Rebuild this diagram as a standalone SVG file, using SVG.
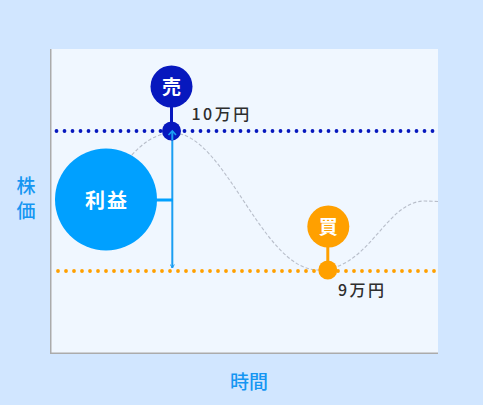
<svg xmlns="http://www.w3.org/2000/svg" width="483" height="405" viewBox="0 0 483 405">
<style>
.axis{font-family:"Noto Sans CJK JP","Noto Sans",sans-serif;font-size:19px;font-weight:500;fill:#1596F2}
.price{font-family:"Noto Sans CJK JP","Noto Sans",sans-serif;font-size:16px;font-weight:500;fill:#2E2E2E;letter-spacing:2.5px}
.badge{font-family:"Noto Sans CJK JP","Noto Sans",sans-serif;font-weight:700;fill:#fff;text-anchor:middle}
.dots{fill:none;stroke-width:3.8;stroke-linecap:round;stroke-dasharray:0 8}
</style>
<defs>
<marker id="ah" viewBox="0 0 10 10" refX="8" refY="5" markerWidth="5" markerHeight="5" orient="auto-start-reverse" markerUnits="userSpaceOnUse">
<path d="M1 1 L8 5 L1 9" fill="none" stroke="#1A9EF2" stroke-width="2"/>
</marker>
</defs>
<rect width="483" height="405" fill="#D1E6FF"/>
<rect x="50" y="49" width="388" height="305" fill="#F0F7FF"/>
<path d="M50.75 49 V353.25 H438" fill="none" stroke="#ABABAB" stroke-width="1.5"/>
<text class="axis" x="26" y="193" text-anchor="middle">株</text>
<text class="axis" x="26" y="218" text-anchor="middle">価</text>
<text class="axis" x="249" y="389" text-anchor="middle">時間</text>
<path d="M100 200 C130 150 150 133 173 133 C225 133 262 270 318 270 C370 270 385 201 425 201 L438 201.5" fill="none" stroke="#B8BECA" stroke-width="1.1" stroke-dasharray="3.5 2"/>
<g id="connectors">
<line class="dots" x1="56.5" y1="131" x2="438" y2="131" stroke="#0718BE"/>
<line class="dots" x1="58" y1="271" x2="438" y2="271" stroke="#FFA000"/>
<line x1="172.3" y1="132" x2="172.3" y2="268" stroke="#1A9EF2" stroke-width="2" marker-start="url(#ah)" marker-end="url(#ah)"/>
<line x1="155" y1="200" x2="173" y2="200" stroke="#00A0FF" stroke-width="3"/>
</g>
<g id="sell">
<line x1="171.5" y1="100" x2="171.5" y2="131" stroke="#0718BE" stroke-width="3"/>
<circle cx="171.5" cy="131" r="9.5" fill="#0718BE"/>
<circle cx="171.5" cy="86.5" r="21" fill="#0718BE"/>
<text class="badge" x="171.5" y="93.5" font-size="19">売</text>
<line x1="172.3" y1="131" x2="172.3" y2="140" stroke="#1A9EF2" stroke-width="2"/>
<path d="M168.5 135 L172.3 131 L176 135" fill="none" stroke="#1A9EF2" stroke-width="1.6"/>
<text class="price" x="191.5" y="120">10万円</text>
</g>
<g id="buy">
<line x1="327.8" y1="240" x2="327.8" y2="270" stroke="#FFA000" stroke-width="3"/>
<circle cx="327.8" cy="270" r="9.5" fill="#FFA000"/>
<circle cx="328.3" cy="226.5" r="21" fill="#FFA000"/>
<text class="badge" x="328.3" y="233.5" font-size="19">買</text>
<text class="price" x="338" y="295.5">9万円</text>
</g>
<g id="profit">
<circle cx="106" cy="199.5" r="51" fill="#00A0FF"/>
<text class="badge" x="107" y="207.5" font-size="20" letter-spacing="2">利益</text>
</g>
</svg>
